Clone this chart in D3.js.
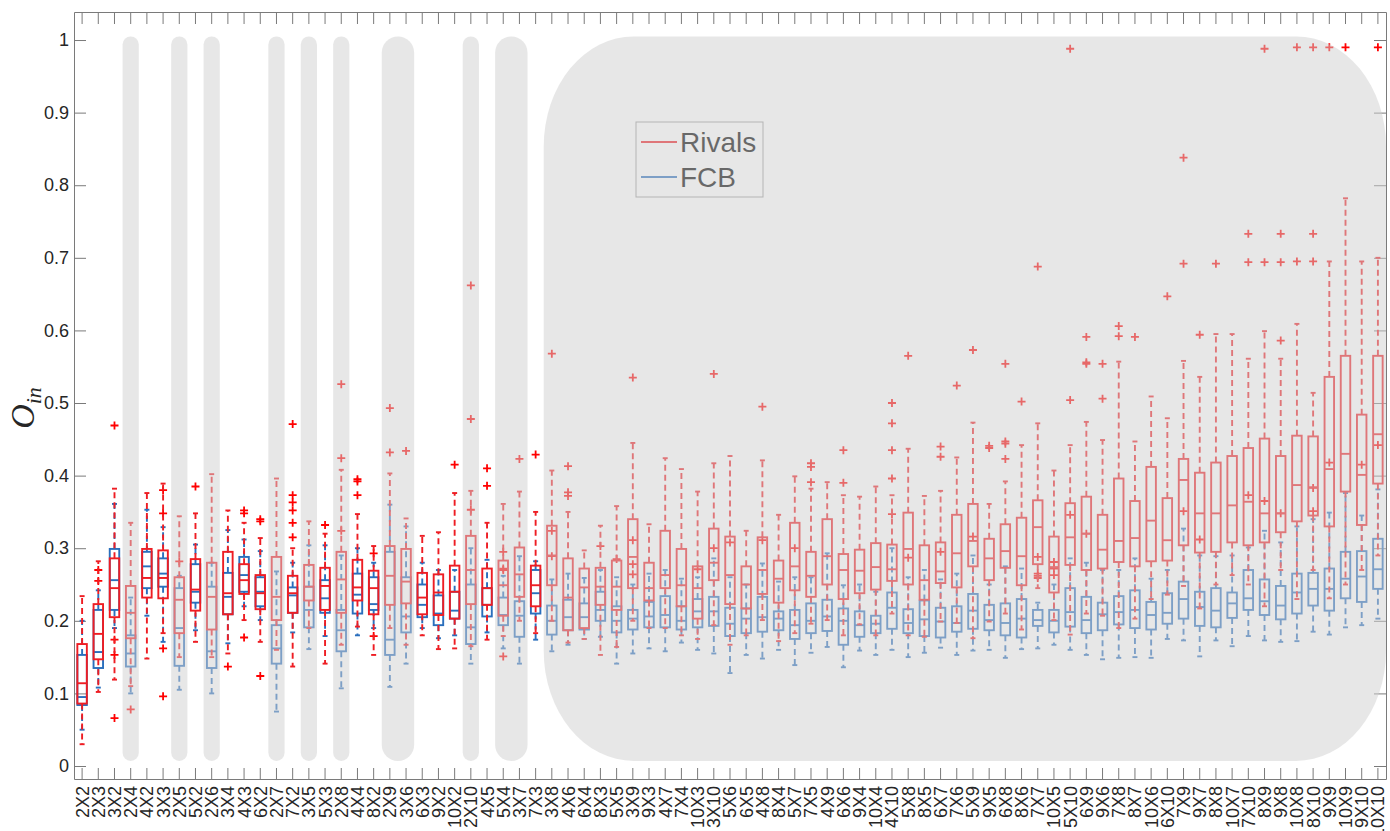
<!DOCTYPE html>
<html><head><meta charset="utf-8">
<script src="https://cdn.jsdelivr.net/npm/d3@7"></script>
<style>body{margin:0;background:#fff}</style>
</head><body>
<svg id="chart" width="1390" height="831"></svg>
<script>
const categories = ["2X2","2X3","3X2","2X4","4X2","3X3","2X5","5X2","2X6","3X4","4X3","6X2","2X7","7X2","3X5","5X3","2X8","4X4","8X2","2X9","3X6","6X3","9X2","10X2","2X10","4X5","5X4","3X7","7X3","3X8","4X6","6X4","8X3","5X5","3X9","9X3","4X7","7X4","10X3","3X10","5X6","6X5","4X8","8X4","5X7","7X5","4X9","6X6","9X4","10X4","4X10","5X8","8X5","6X7","7X6","5X9","9X5","6X8","8X6","7X7","10X5","5X10","6X9","9X6","7X8","8X7","10X6","6X10","7X9","9X7","8X8","10X7","7X10","8X9","9X8","10X8","8X10","9X9","10X9","9X10","10X10"];
const yTicks = [0,0.1,0.2,0.3,0.4,0.5,0.6,0.7,0.8,0.9,1];
const seriesNames = ["Rivals","FCB"];
// [lower whisker, Q1, median, Q3, upper whisker]
const rivalsBox = [
[0.030,0.086,0.114,0.168,0.234],[0.102,0.147,0.182,0.223,0.282],[0.119,0.205,0.245,0.286,0.382],[0.110,0.176,0.211,0.248,0.335],
[0.148,0.232,0.259,0.299,0.376],[0.183,0.231,0.259,0.297,0.389],[0.150,0.183,0.229,0.260,0.344],[0.171,0.214,0.243,0.285,0.348],
[0.150,0.188,0.233,0.280,0.402],[0.155,0.209,0.238,0.295,0.352],[0.201,0.237,0.256,0.278,0.335],[0.171,0.216,0.238,0.263,0.314],
[0.160,0.201,0.233,0.288,0.396],[0.137,0.211,0.238,0.262,0.300],[0.190,0.228,0.247,0.277,0.337],[0.141,0.215,0.248,0.273,0.320],
[0.167,0.211,0.257,0.295,0.408],[0.192,0.228,0.246,0.284,0.347],[0.153,0.209,0.245,0.269,0.303],[0.190,0.222,0.262,0.303,0.403],
[0.167,0.224,0.254,0.299,0.341],[0.180,0.209,0.232,0.266,0.317],[0.161,0.208,0.239,0.264,0.322],[0.162,0.203,0.240,0.276,0.376],
[0.165,0.223,0.270,0.317,0.379],[0.174,0.222,0.245,0.272,0.335],[0.179,0.207,0.249,0.283,0.361],[0.200,0.233,0.264,0.301,0.378],
[0.183,0.220,0.249,0.276,0.350],[0.200,0.249,0.290,0.331,0.407],[0.170,0.187,0.232,0.286,0.350],[0.175,0.190,0.246,0.272,0.297],
[0.153,0.222,0.247,0.273,0.331],[0.164,0.215,0.247,0.283,0.358],[0.200,0.245,0.288,0.340,0.445],[0.190,0.228,0.245,0.280,0.333],
[0.190,0.245,0.263,0.324,0.424],[0.180,0.220,0.249,0.299,0.409],[0.175,0.203,0.245,0.275,0.378],[0.194,0.256,0.280,0.327,0.417],
[0.167,0.223,0.263,0.316,0.427],[0.180,0.217,0.250,0.275,0.324],[0.201,0.237,0.270,0.315,0.421],[0.172,0.225,0.258,0.283,0.346],
[0.183,0.242,0.275,0.335,0.399],[0.196,0.233,0.262,0.295,0.382],[0.201,0.250,0.289,0.340,0.391],[0.180,0.230,0.270,0.292,0.373],
[0.195,0.238,0.269,0.298,0.371],[0.180,0.243,0.274,0.307,0.385],[0.210,0.255,0.271,0.305,0.373],[0.180,0.250,0.299,0.349,0.437],
[0.178,0.229,0.256,0.304,0.372],[0.199,0.252,0.268,0.308,0.379],[0.197,0.246,0.293,0.346,0.425],[0.176,0.275,0.310,0.361,0.473],
[0.199,0.256,0.286,0.313,0.361],[0.210,0.273,0.296,0.333,0.392],[0.188,0.249,0.289,0.342,0.442],[0.245,0.278,0.329,0.366,0.472],
[0.201,0.239,0.274,0.316,0.407],[0.181,0.277,0.315,0.362,0.442],[0.210,0.270,0.320,0.371,0.474],[0.207,0.272,0.298,0.346,0.449],
[0.190,0.281,0.310,0.396,0.557],[0.203,0.275,0.314,0.365,0.447],[0.230,0.282,0.338,0.412,0.509],[0.236,0.283,0.311,0.369,0.479],
[0.248,0.304,0.394,0.423,0.558],[0.217,0.294,0.348,0.404,0.536],[0.250,0.295,0.348,0.418,0.595],[0.263,0.308,0.359,0.427,0.595],
[0.250,0.304,0.364,0.438,0.561],[0.220,0.308,0.348,0.451,0.599],[0.270,0.322,0.348,0.427,0.561],[0.230,0.337,0.387,0.455,0.609],
[0.270,0.345,0.384,0.454,0.514],[0.231,0.330,0.409,0.536,0.695],[0.250,0.378,0.430,0.565,0.782],[0.270,0.332,0.401,0.484,0.695],
[0.290,0.389,0.457,0.565,0.700]];
const fcbBox = [
[0.050,0.084,0.095,0.153,0.200],[0.108,0.135,0.157,0.215,0.242],[0.190,0.215,0.256,0.299,0.361],[0.100,0.137,0.155,0.180,0.232],
[0.207,0.245,0.275,0.295,0.353],[0.171,0.247,0.265,0.286,0.329],[0.105,0.138,0.190,0.245,0.262],[0.187,0.225,0.240,0.278,0.305],
[0.100,0.135,0.158,0.247,0.280],[0.169,0.209,0.233,0.266,0.325],[0.220,0.240,0.263,0.288,0.312],[0.201,0.220,0.240,0.260,0.296],
[0.075,0.141,0.162,0.194,0.268],[0.184,0.211,0.235,0.246,0.280],[0.161,0.191,0.215,0.247,0.304],[0.179,0.211,0.231,0.256,0.304],
[0.107,0.158,0.187,0.215,0.290],[0.180,0.210,0.236,0.265,0.300],[0.190,0.215,0.223,0.260,0.280],[0.109,0.153,0.174,0.295,0.360],
[0.141,0.184,0.206,0.260,0.330],[0.190,0.205,0.222,0.250,0.280],[0.176,0.194,0.210,0.235,0.270],[0.180,0.203,0.214,0.240,0.270],
[0.141,0.168,0.191,0.250,0.300],[0.184,0.206,0.222,0.245,0.284],[0.162,0.194,0.208,0.232,0.262],[0.141,0.178,0.207,0.227,0.289],
[0.174,0.210,0.238,0.270,0.282],[0.158,0.181,0.200,0.221,0.257],[0.167,0.187,0.205,0.229,0.265],[0.175,0.188,0.205,0.224,0.259],
[0.178,0.200,0.215,0.240,0.270],[0.141,0.184,0.200,0.220,0.260],[0.155,0.188,0.203,0.215,0.250],[0.162,0.191,0.206,0.226,0.265],
[0.158,0.191,0.208,0.234,0.270],[0.170,0.188,0.200,0.220,0.258],[0.160,0.191,0.213,0.230,0.260],[0.155,0.193,0.213,0.233,0.286],
[0.128,0.179,0.196,0.218,0.260],[0.153,0.183,0.203,0.217,0.250],[0.148,0.185,0.205,0.233,0.279],[0.160,0.187,0.203,0.213,0.254],
[0.139,0.175,0.194,0.215,0.260],[0.156,0.183,0.200,0.224,0.260],[0.164,0.186,0.206,0.229,0.293],[0.136,0.167,0.200,0.217,0.249],
[0.159,0.178,0.194,0.213,0.250],[0.153,0.183,0.196,0.207,0.240],[0.160,0.189,0.218,0.239,0.300],[0.150,0.183,0.197,0.216,0.260],
[0.156,0.179,0.202,0.228,0.270],[0.163,0.177,0.199,0.218,0.257],[0.153,0.185,0.197,0.220,0.265],[0.159,0.189,0.214,0.237,0.290],
[0.160,0.187,0.201,0.222,0.250],[0.149,0.180,0.197,0.224,0.275],[0.161,0.177,0.203,0.230,0.272],[0.162,0.193,0.201,0.215,0.225],
[0.167,0.184,0.200,0.215,0.250],[0.160,0.192,0.212,0.245,0.286],[0.153,0.183,0.201,0.233,0.280],[0.147,0.187,0.209,0.225,0.270],
[0.149,0.195,0.212,0.234,0.270],[0.150,0.190,0.215,0.242,0.286],[0.149,0.188,0.208,0.226,0.258],[0.175,0.196,0.211,0.238,0.270],
[0.173,0.203,0.230,0.254,0.327],[0.151,0.193,0.219,0.240,0.290],[0.173,0.191,0.214,0.245,0.289],[0.165,0.204,0.224,0.239,0.290],
[0.179,0.215,0.231,0.270,0.301],[0.173,0.208,0.227,0.257,0.324],[0.171,0.202,0.221,0.248,0.308],[0.172,0.210,0.239,0.265,0.330],
[0.185,0.221,0.244,0.266,0.340],[0.181,0.214,0.244,0.272,0.349],[0.191,0.231,0.258,0.295,0.376],[0.194,0.226,0.261,0.296,0.345],
[0.203,0.244,0.271,0.313,0.381]];
const rivalsOutliers = [
[],[],[0.469,0.066],[0.078],[],[0.162,0.096],[],[0.385],[],[0.137],[0.352,0.348,0.177],[0.340,0.337,0.124],
[],[0.471,0.373,0.363,0.352,0.335,0.315],[],[0.332],[0.526,0.424],[0.395,0.392,0.373],[],[0.493,0.432],[0.434],[],[],[0.415],
[0.662,0.478],[0.410,0.386],[0.151],[0.423],[0.429],[0.568],[0.413,0.377,0.372],[],[],[],[0.535],[],
[],[],[],[0.540],[],[],[0.495],[],[],[0.417,0.412,0.391],[],[0.435,0.390],
[],[],[0.500,0.472,0.435,0.396],[0.565],[],[0.440,0.426],[0.524],[0.573],[0.441,0.438],[0.554,0.447,0.444,0.423],[0.502],[0.688],
[],[0.988,0.504],[0.591,0.556,0.554],[0.554,0.506],[0.606,0.592],[0.591],[],[0.647],[0.838,0.692],[0.594],[0.692],[],
[0.733,0.694],[0.988,0.694],[0.733,0.694,0.586],[0.990,0.695],[0.990,0.733,0.695],[0.990],[0.990],[],[0.990]];
const fcbOutliers = [
[],[0.270,0.255],[0.174,0.153],[],[],[0.380,0.348],[0.282],[],[],[],[],[],
[],[],[],[],[0.324],[],[0.293,0.179],[],[],[],[],[],
[0.353],[],[0.295,0.272,0.270],[],[],[0.324,0.289],[],[],[0.303],[0.285],[0.311,0.278,0.264],[],
[],[],[0.271],[0.300],[0.308],[],[0.311],[],[0.300],[],[],[],
[],[],[0.347],[0.287],[],[0.295],[],[0.316],[],[],[],[0.288,0.265,0.262,0.259],
[0.281,0.272,0.263],[0.346],[0.320],[],[],[],[],[],[0.351],[0.312],[],[],
[0.373],[0.365],[0.348],[],[0.383,0.351],[0.418],[],[0.415],[0.442]];
const highlightGroups = [["2X4"],["2X5"],["2X6"],["2X7"],["3X5"],["2X8"],["2X9","3X6"],["2X10"],["5X4","3X7"],["3X8","10X10"]];

const W = 1390, H = 831;
const L = 74, R = 1386, T = 12, B = 779;
const RED = "#ee1d23", BLUE = "#2a6fbd", AX = "#7a7a7a", TXT = "#262626";
const FONT = "'Liberation Sans', Arial, Helvetica, sans-serif";

const svg = d3.select("#chart");
const x = d3.scaleBand().domain(categories).range([L, R]).padding(0);
const y = d3.scaleLinear().domain([-0.0179, 1.0386]).range([B, T]);
const cx = c => x(c) + x.bandwidth() / 2;

// axes
const gL = svg.append("g").attr("transform", `translate(${L},0)`)
  .call(d3.axisLeft(y).tickValues(yTicks).tickSizeInner(-12).tickSizeOuter(0).tickPadding(5)
    .tickFormat(d => d3.format("")(+d.toFixed(1))));
const gR = svg.append("g").attr("transform", `translate(${R},0)`)
  .call(d3.axisRight(y).tickValues(yTicks).tickSizeInner(-12).tickSizeOuter(0).tickFormat(""));
const gB = svg.append("g").attr("transform", `translate(0,${B})`)
  .call(d3.axisBottom(x).tickSizeInner(-11).tickSizeOuter(0));
const gT = svg.append("g").attr("transform", `translate(0,${T})`)
  .call(d3.axisTop(x).tickSizeInner(-12).tickSizeOuter(0).tickFormat(""));
[gL, gR, gB, gT].forEach(g => {
  g.selectAll("path.domain").attr("stroke", AX).attr("stroke-width", 1);
  g.selectAll(".tick line").attr("stroke", AX).attr("stroke-width", 1);
});
gL.selectAll("text").attr("font-size", 18).attr("font-family", FONT).attr("fill", TXT);
gB.selectAll("text").attr("font-size", 18).attr("font-family", FONT).attr("fill", TXT)
  .attr("transform", "rotate(-90)").attr("text-anchor", "end")
  .attr("x", -7).attr("y", 0).attr("dy", "0.36em");

// y label
const yl = svg.append("text").attr("transform", "translate(34,408) rotate(-90)")
  .attr("text-anchor", "middle").attr("font-family", "'Liberation Serif','DejaVu Serif',serif")
  .attr("font-style", "italic").attr("fill", TXT);
yl.append("tspan").attr("font-size", 34).text("O");
yl.append("tspan").attr("font-size", 22).attr("dy", 7).text("in");

// boxes
function drawSeries(stats, color) {
  const data = categories.map((c, i) => ({ c, s: stats[i] }));
  const g = svg.append("g").attr("fill", "none").attr("stroke", color).attr("stroke-width", 1.9);
  const bw = 9.5, cw = 5;
  g.selectAll(".wu").data(data).join("line")
    .attr("x1", d => cx(d.c)).attr("x2", d => cx(d.c))
    .attr("y1", d => y(d.s[3])).attr("y2", d => y(d.s[4])).attr("stroke-dasharray", "6,4");
  g.selectAll(".wl").data(data).join("line")
    .attr("x1", d => cx(d.c)).attr("x2", d => cx(d.c))
    .attr("y1", d => y(d.s[1])).attr("y2", d => y(d.s[0])).attr("stroke-dasharray", "6,4");
  [0, 4].forEach(k => {
    g.selectAll(".cap" + k).data(data).join("line")
      .attr("x1", d => cx(d.c) - cw / 2).attr("x2", d => cx(d.c) + cw / 2)
      .attr("y1", d => y(d.s[k])).attr("y2", d => y(d.s[k]));
  });
  g.selectAll(".box").data(data).join("rect")
    .attr("x", d => cx(d.c) - bw / 2).attr("width", bw)
    .attr("y", d => y(d.s[3])).attr("height", d => y(d.s[1]) - y(d.s[3]));
  g.selectAll(".med").data(data).join("line")
    .attr("x1", d => cx(d.c) - bw / 2).attr("x2", d => cx(d.c) + bw / 2)
    .attr("y1", d => y(d.s[2])).attr("y2", d => y(d.s[2]));
}
function drawOutliers(outs) {
  const pts = [];
  outs.forEach((arr, i) => arr.forEach(v => pts.push({ c: categories[i], v })));
  svg.append("g").selectAll("path").data(pts).join("path")
    .attr("transform", d => `translate(${cx(d.c)},${y(d.v)})`)
    .attr("d", "M-4,0H4M0,-4V4").attr("stroke", "#ff0000").attr("stroke-width", 1.8).attr("fill", "none");
}
drawSeries(fcbBox, BLUE);
drawOutliers(fcbOutliers);
drawSeries(rivalsBox, RED);
drawOutliers(rivalsOutliers);

// legend
const lg = svg.append("g");
lg.append("rect").attr("x", 636).attr("y", 122).attr("width", 127).attr("height", 75)
  .attr("fill", "#fff").attr("stroke", "#999").attr("stroke-width", 1);
[[RED, seriesNames[0], 142, 152], [BLUE, seriesNames[1], 177, 187]].forEach(([col, name, ly, by]) => {
  lg.append("line").attr("x1", 641).attr("x2", 677).attr("y1", ly).attr("y2", ly)
    .attr("stroke", col).attr("stroke-width", 1.8);
  lg.append("text").attr("x", 680).attr("y", by).attr("font-size", 28).attr("font-family", FONT)
    .attr("fill", "#000").text(name);
});

// translucent highlight overlays
const hg = svg.append("g");
highlightGroups.forEach(grp => {
  const x0 = x(grp[0]);
  const x1 = x(grp[grp.length - 1]) + x.bandwidth();
  const w = x1 - x0;
  hg.append("rect").attr("x", x0).attr("width", w)
    .attr("y", y(1.005)).attr("height", y(0.007) - y(1.005))
    .attr("rx", Math.min(w / 2, 90)).attr("ry", Math.min(w / 2, 110))
    .attr("fill", "#d0d0d0").attr("fill-opacity", 0.5);
});
</script>
</body></html>
